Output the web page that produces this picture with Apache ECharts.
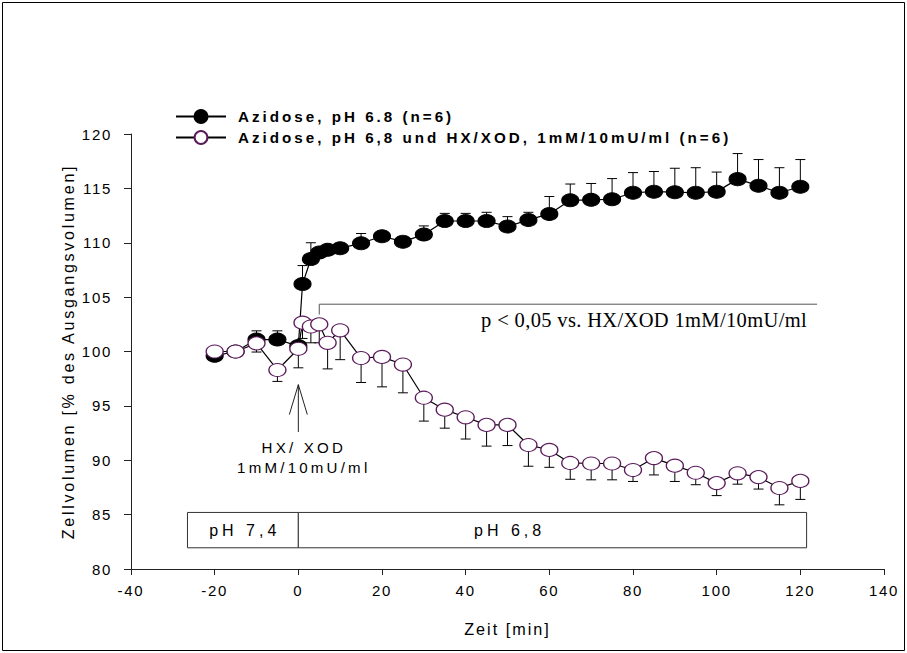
<!DOCTYPE html>
<html>
<head>
<meta charset="utf-8">
<script src="https://cdn.jsdelivr.net/npm/echarts@6/dist/echarts.min.js"></script>
<style>
html,body{margin:0;padding:0;background:#fff;}
#c{width:907px;height:653px;}
#c text[style*="15px"]{letter-spacing:1.7px;}
#c text[style*="15.2px"]{letter-spacing:3px;}
#c text[style*="15.1px"]{letter-spacing:3.2px;}
#c text[style*="16px"]{letter-spacing:4px;}
#c text[style*="16.1px"]{letter-spacing:2.7px;}
#c text[style*="16.2px"]{letter-spacing:2px;}
#c text[style*="20.5px"]{letter-spacing:0.35px;}
</style>
</head>
<body>
<div id="c"></div>
<script>
// ---- data ----
const nameA = 'Azidose, pH 6.8 (n=6)';
const nameB = 'Azidose, pH 6,8 und HX/XOD, 1mM/10mU/ml (n=6)';
const times = [-20,-15,-10,-5,0,1,3,5,7,10,15,20,25,30,35,40,45,50,55,60,65,70,75,80,85,90,95,100,105,110,115,120];
const azidose = [99.6,100.0,101.1,101.1,100.5,106.2,108.5,109.1,109.35,109.5,109.95,110.6,110.1,110.75,112.0,112.0,112.0,111.5,112.1,112.65,113.9,113.95,114.0,114.6,114.7,114.65,114.6,114.7,115.85,115.25,114.6,115.15];
const azidoseErrTop = [null,null,101.9,101.9,null,107.9,110.0,null,null,null,110.85,null,null,111.55,112.7,112.7,112.8,112.4,112.8,114.25,115.4,115.45,115.9,116.45,116.55,116.85,116.9,116.5,118.2,117.65,116.9,117.65];
const hxxod = [100.0,100.0,100.75,98.3,100.25,102.65,102.3,102.5,100.8,101.95,99.4,99.5,98.8,95.75,94.65,93.95,93.25,93.25,91.4,90.95,89.75,89.7,89.7,89.1,90.2,89.5,88.85,87.9,88.8,88.45,87.45,88.1];
const hxxodErrBottom = [null,null,99.95,97.25,98.5,101.2,100.8,100.8,98.4,99.25,97.15,96.75,96.2,93.6,92.95,91.95,91.3,91.35,89.45,89.35,88.25,88.2,88.2,88.05,88.65,88.05,87.75,86.75,87.8,87.35,85.9,86.4];
const xTicks = [-40,-20,0,20,40,60,80,100,120,140];
const yTicks = [80,85,90,95,100,105,110,115,120];
const xTitle = 'Zeit [min]';
const yTitle = 'Zellvolumen [% des Ausgangsvolumen]';
// phase boxes: [xStart, xEnd, yTop, yBottom, labelX, label]
const phaseBoxes = [[-26.5, 0, 85.2, 81.95, -12.8, 'pH 7,4'], [0, 121.5, 85.2, 81.95, 50.5, 'pH 6,8']];
// significance bracket & arrow
const bracket = [[5, 103.4], [5, 104.35], [124, 104.35]];
const arrowShaft = [[0, 96.95], [0, 92.6]];
const arrowHead = [[-2.15, 94.2], [0, 96.95], [2.15, 94.2]];
const sigText = 'p < 0,05 vs. HX/XOD 1mM/10mU/ml';
const sigPos = [121.6, 102.9];
const hxText = 'HX/ XOD\n1mM/10mU/ml';
const hxPos = [1.3, 90.25];

// ---- chart ----
const chart = echarts.init(document.getElementById('c'), null, {renderer: 'svg'});
const FONT = 'Liberation Sans, Arial, sans-serif';

function errSeries(vals, errs, z) {
  const data = [];
  times.forEach((t, i) => { if (errs[i] != null) data.push([t, vals[i], errs[i]]); });
  return {
    type: 'custom', silent: true, z: z, data: data,
    encode: {x: 0, y: [1, 2]},
    renderItem: function (params, api) {
      const p0 = api.coord([api.value(0), api.value(1)]);
      const p1 = api.coord([api.value(0), api.value(2)]);
      const hw = 5;
      return {type: 'group', children: [
        {type: 'line', shape: {x1: p0[0], y1: p0[1], x2: p1[0], y2: p1[1]}, style: {stroke: '#000', lineWidth: 1}},
        {type: 'line', shape: {x1: p1[0] - hw, y1: p1[1], x2: p1[0] + hw, y2: p1[1]}, style: {stroke: '#000', lineWidth: 1}}
      ]};
    }
  };
}

const option = {
  animation: false,
  backgroundColor: '#fff',
  graphic: [{type: 'rect', shape: {x: 2.5, y: 2.5, width: 902, height: 648}, style: {fill: 'none', stroke: '#000', lineWidth: 1}, silent: true}],
  grid: {left: 131, right: 23, top: 134, bottom: 84},
  legend: {
    data: [nameA, nameB], orient: 'vertical', left: 170, top: 104,
    itemWidth: 50, itemHeight: 16, itemGap: 6,
    textStyle: {fontFamily: FONT, fontWeight: 'bold', fontSize: 15.2, color: '#000', padding: [0, 0, 0, 7]}
  },
  xAxis: {
    type: 'value', min: xTicks[0], max: xTicks[xTicks.length - 1], interval: 20,
    splitLine: {show: false},
    axisLine: {onZero: false, lineStyle: {color: '#222', width: 1}},
    axisTick: {inside: false, length: 6, lineStyle: {color: '#222'}},
    axisLabel: {fontFamily: FONT, fontSize: 15, color: '#000', margin: 14},
    name: xTitle, nameLocation: 'middle', nameGap: 52,
    nameTextStyle: {fontFamily: FONT, fontSize: 16.2, color: '#000'}
  },
  yAxis: {
    type: 'value', min: yTicks[0], max: yTicks[yTicks.length - 1], interval: 5,
    splitLine: {show: false},
    axisLine: {show: true, onZero: false, lineStyle: {color: '#222', width: 1}},
    axisTick: {show: true, inside: false, length: 7, lineStyle: {color: '#222'}},
    axisLabel: {fontFamily: FONT, fontSize: 15, color: '#000', margin: 19},
    name: yTitle, nameLocation: 'middle', nameGap: 52,
    nameTextStyle: {fontFamily: FONT, fontSize: 16.1, color: '#000'}
  },
  series: [
    // phase boxes
    {
      type: 'custom', silent: true, z: 1,
      data: phaseBoxes.map(b => [b[0], b[1], b[2], b[3], b[4]]),
      encode: {x: [0, 1], y: [2, 3]},
      renderItem: function (params, api) {
        const a = api.coord([api.value(0), api.value(2)]);
        const b = api.coord([api.value(1), api.value(3)]);
        const c = api.coord([api.value(4), (api.value(2) + api.value(3)) / 2]);
        return {type: 'group', children: [
          {type: 'rect', shape: {x: a[0], y: a[1], width: b[0] - a[0], height: b[1] - a[1]}, style: {fill: '#fff', stroke: '#333', lineWidth: 1}},
          {type: 'text', x: c[0], y: c[1], style: {text: phaseBoxes[params.dataIndex][5], fontFamily: FONT, fontSize: 16, fill: '#000', align: 'center', verticalAlign: 'middle'}}
        ]};
      }
    },
    // bracket and arrow
    {type: 'line', silent: true, data: bracket, symbol: 'none', lineStyle: {color: '#555', width: 1}, z: 1},
    {type: 'line', silent: true, data: arrowShaft, symbol: 'none', lineStyle: {color: '#222', width: 1}, z: 1},
    {type: 'line', silent: true, data: arrowHead, symbol: 'none', lineStyle: {color: '#222', width: 1}, z: 1},
    // annotation texts
    {
      type: 'custom', silent: true, z: 1,
      data: [[sigPos[0], sigPos[1]], [hxPos[0], hxPos[1]]],
      renderItem: function (params, api) {
        const p = api.coord([api.value(0), api.value(1)]);
        if (params.dataIndex === 0) {
          return {type: 'text', x: p[0], y: p[1], style: {text: sigText, fontFamily: 'Liberation Serif, Times New Roman, serif', fontSize: 20.5, fill: '#000', align: 'right', verticalAlign: 'middle'}};
        }
        return {type: 'text', x: p[0], y: p[1], style: {text: hxText, fontFamily: FONT, fontSize: 15.1, lineHeight: 19.5, fill: '#000', align: 'center', verticalAlign: 'middle'}};
      }
    },
    errSeries(azidose, azidoseErrTop, 2),
    errSeries(hxxod, hxxodErrBottom, 2),
    {
      name: nameA, type: 'line', data: times.map((t, i) => [t, azidose[i]]),
      symbol: 'circle', symbolSize: [17, 13], showAllSymbol: true,
      itemStyle: {color: '#000', borderColor: '#000', borderWidth: 1},
      lineStyle: {color: '#000', width: 1.2}, z: 3
    },
    {
      name: nameB, type: 'line', data: times.map((t, i) => [t, hxxod[i]]),
      symbol: 'circle', symbolSize: [17, 13], showAllSymbol: true,
      itemStyle: {color: '#fff', borderColor: '#5b1b5b', borderWidth: 1.2},
      lineStyle: {color: '#000', width: 1.2}, z: 4
    }
  ]
};
chart.setOption(option);
</script>
</body>
</html>
